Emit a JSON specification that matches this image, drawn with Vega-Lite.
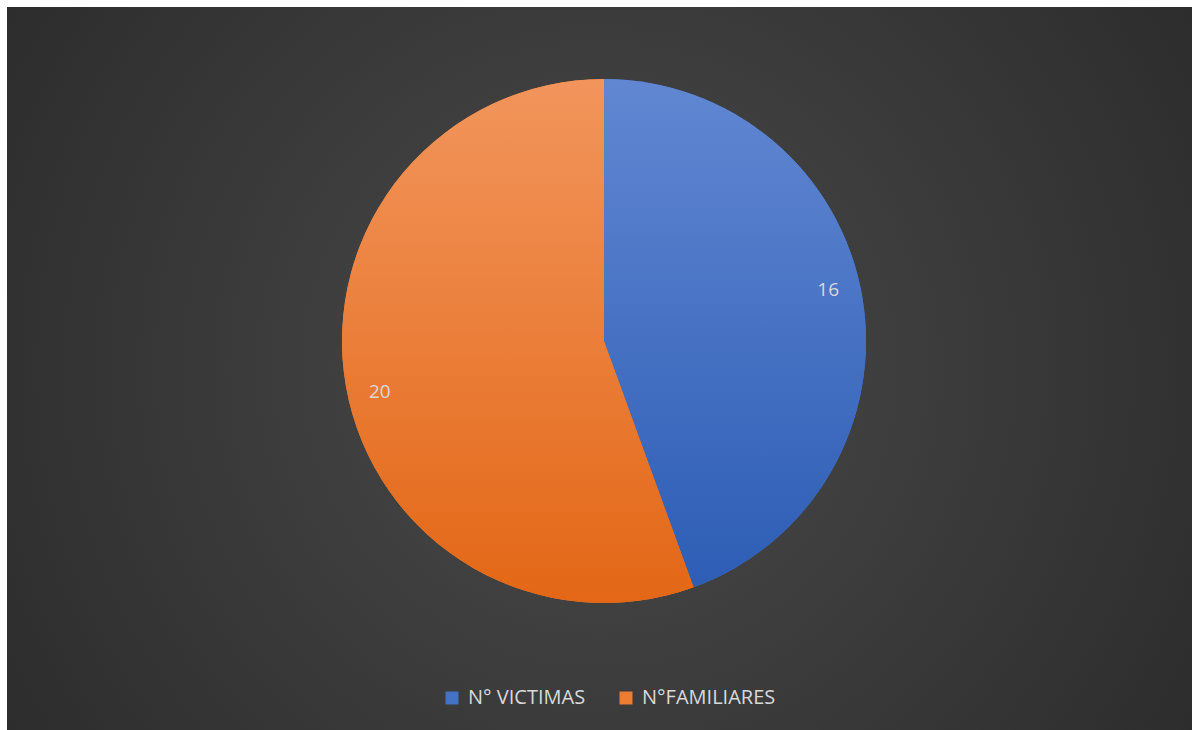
{
  "$schema": "https://vega.github.io/schema/vega-lite/v6.json",
  "width": 1192,
  "height": 730,
  "autosize": {"type": "fit", "contains": "padding"},
  "padding": {"left": 7, "top": 7, "right": 0, "bottom": 0},
  "background": "white",
  "config": {"view": {"stroke": null}},
  "layer": [
    {
      "data": {"values": [{"bg": 1}]},
      "mark": {
        "type": "rect",
        "fill": {
          "gradient": "radial",
          "x1": 0.5, "y1": 0.5, "r1": 0,
          "x2": 0.5, "y2": 0.5, "r2": 0.72,
          "stops": [
            {"offset": 0, "color": "#4a4a4a"},
            {"offset": 1, "color": "#262626"}
          ]
        }
      },
      "encoding": {}
    },
    {
      "data": {"name": "pie", "values": [
        {"cat": "N° VICTIMAS", "value": 16},
        {"cat": "N°FAMILIARES", "value": 20}
      ]},
      "encoding": {
        "theta": {"field": "value", "type": "quantitative", "stack": true}
      },
      "layer": [
        {
          "mark": {"type": "arc", "radius": 262, "xOffset": 4.5, "yOffset": -27.5, "strokeWidth": 0},
          "encoding": {
            "color": {
              "field": "cat",
              "type": "nominal",
              "scale": {"domain": ["N° VICTIMAS", "N°FAMILIARES"], "range": ["#4472c4", "#ed7d31"]},
              "legend": {
                "orient": "none",
                "legendX": 435,
                "legendY": 681,
                "direction": "horizontal",
                "title": null,
                "symbolType": "square",
                "symbolSize": 169,
                "symbolStrokeWidth": 0,
                "labelFontSize": 20,
                "labelColor": "#d9d9d9",
                "labelFont": "Open Sans",
                "columnPadding": 30,
                "labelOffset": 6
              }
            }
          }
        },
        {
          "mark": {"type": "arc", "radius": 262, "xOffset": 4.5, "yOffset": -27.5, "strokeWidth": 0},
          "encoding": {
            "detail": {"field": "cat", "type": "nominal"},
            "fill": {
              "condition": {
                "test": "datum.cat === 'N° VICTIMAS'",
                "value": {
                  "gradient": "linear", "x1": 0, "y1": 0, "x2": 0, "y2": 1,
                  "stops": [{"offset": 0, "color": "#6187d2"}, {"offset": 1, "color": "#2d5db5"}]
                }
              },
              "value": {
                "gradient": "linear", "x1": 0, "y1": 0, "x2": 0, "y2": 1,
                "stops": [{"offset": 0, "color": "#f2955c"}, {"offset": 1, "color": "#e36716"}]
              }
            }
          }
        },
        {
          "mark": {"type": "text", "radius": 230, "thetaOffset": -0.05, "xOffset": 4.5, "yOffset": -27.5, "fontSize": 19, "font": "Open Sans", "fill": "#d9d9d9", "align": "center", "baseline": "middle"},
          "encoding": {
            "detail": {"field": "cat", "type": "nominal"},
            "text": {"field": "value", "type": "quantitative"}
          }
        }
      ]
    }
  ]
}
